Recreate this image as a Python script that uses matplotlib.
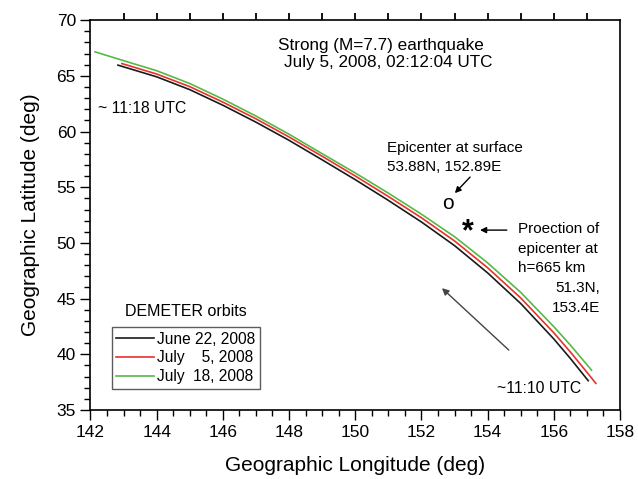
import matplotlib
matplotlib.use("Agg")
import matplotlib.pyplot as plt
import numpy as np
from matplotlib.ticker import MultipleLocator

plt.rcParams['font.family'] = ['Liberation Sans', 'DejaVu Sans']

# Orbit tracks (longitude, latitude)
lon_jun22 = [142.83, 144.0, 145.0, 146.0, 147.0, 148.0, 149.0, 150.0, 151.0, 152.0,
             153.0, 154.0, 155.0, 156.0, 156.5, 157.04]
lat_jun22 = [65.96, 64.91, 63.76, 62.36, 60.84, 59.21, 57.46, 55.68, 53.82, 51.88,
             49.76, 47.31, 44.56, 41.38, 39.63, 37.63]

lon_jul05 = [142.95, 144.0, 145.0, 146.0, 147.0, 148.0, 149.0, 150.0, 151.0, 152.0,
             153.0, 154.0, 155.0, 156.0, 156.5, 157.0, 157.27]
lat_jul05 = [66.10, 65.16, 64.03, 62.64, 61.14, 59.51, 57.78, 56.01, 54.17, 52.26,
             50.18, 47.77, 45.06, 41.93, 40.21, 38.39, 37.39]

lon_jul18 = [142.14, 143.0, 144.0, 145.0, 146.0, 147.0, 148.0, 149.0, 150.0, 151.0,
             152.0, 153.0, 154.0, 155.0, 156.0, 156.5, 157.14]
lat_jul18 = [67.15, 66.36, 65.46, 64.31, 62.91, 61.39, 59.76, 58.01, 56.28, 54.47,
             52.58, 50.56, 48.21, 45.56, 42.48, 40.83, 38.58]

series_labels = ["June 22, 2008", "July    5, 2008", "July  18, 2008"]
series_colors = ["#1a1a1a", "#e8322b", "#55b947"]

epicenter = (152.89, 53.88)
projection = (153.4, 51.3)

top_tick_lons = np.arange(143, 158, 1)

fig = plt.figure(figsize=(6.38, 4.79), dpi=100)
ax = fig.add_axes([0.1418, 0.144, 0.8300, 0.814])

for lon, lat, lab, col in zip([lon_jun22, lon_jul05, lon_jul18],
                              [lat_jun22, lat_jul05, lat_jul18],
                              series_labels, series_colors):
    ax.plot(lon, lat, color=col, lw=1.2, label=lab)

ax.set_xlim(142, 158)
ax.set_ylim(35, 70)
ax.xaxis.set_major_locator(MultipleLocator(2))
ax.xaxis.set_minor_locator(MultipleLocator(0.5))
ax.yaxis.set_major_locator(MultipleLocator(5))
ax.yaxis.set_minor_locator(MultipleLocator(1))
ax.tick_params(axis='both', which='major', direction='out', length=7, width=1,
               labelsize=12.5, colors='black')
ax.tick_params(axis='both', which='minor', direction='out', length=4, width=1)
ax.tick_params(axis='x', which='both', top=False, bottom=True)
ax.tick_params(axis='y', which='both', right=False, left=True)

for s in ax.spines.values():
    s.set_linewidth(1.2)

# top ticks every degree, drawn just above the top spine
ax.vlines(top_tick_lons, 1.0, 1.0 + 7.0 / 390.0, transform=ax.get_xaxis_transform(),
          clip_on=False, color='black', lw=1.3, zorder=5)

ax.set_xlabel("Geographic Longitude (deg)", fontsize=15, labelpad=12)
ax.set_ylabel("Geographic Latitude (deg)", fontsize=15, labelpad=12)

leg = ax.legend(loc='lower left', bbox_to_anchor=(0.04, 0.054), borderaxespad=0,
                fontsize=11.2, handlelength=2.4, handletextpad=0.2,
                labelspacing=0.25, fancybox=False, frameon=True,
                borderpad=0.3)
leg.get_frame().set_edgecolor('#333333')
leg.get_frame().set_linewidth(1.0)

ax.text(144.89, 43.88, "DEMETER orbits", fontsize=11.5, ha='center', va='center')

ax.text(150.78, 67.76, "Strong (M=7.7) earthquake", fontsize=12.3, ha='center', va='center')
ax.text(150.99, 66.23, "July 5, 2008, 02:12:04 UTC", fontsize=12.3, ha='center', va='center')

ax.text(142.23, 62.1, "~ 11:18 UTC", fontsize=11.3, ha='left', va='center')
ax.text(154.28, 36.97, "~11:10 UTC", fontsize=11.3, ha='left', va='center')

ax.text(150.96, 58.51, "Epicenter at surface", fontsize=11, ha='left', va='center')
ax.text(150.96, 56.80, "53.88N, 152.89E", fontsize=11, ha='left', va='center')
ax.text(epicenter[0] - 0.09, epicenter[1] - 0.3, "o", fontsize=15, ha='center', va='center')
ax.annotate("", xy=(153.01, 54.47), xytext=(153.47, 55.91),
            arrowprops=dict(arrowstyle='-|>', color='black', lw=1.0,
                            mutation_scale=9, shrinkA=0, shrinkB=0))

ax.text(projection[0], projection[1] - 0.35, "*", fontsize=22, fontweight='bold',
        ha='center', va='center')
ax.annotate("", xy=(153.77, 51.15), xytext=(154.58, 51.15),
            arrowprops=dict(arrowstyle='-|>', color='black', lw=1.0,
                            mutation_scale=9, shrinkA=0, shrinkB=0))
ax.text(154.92, 51.24, "Proection of", fontsize=11, ha='left', va='center')
ax.text(154.92, 49.44, "epicenter at", fontsize=11, ha='left', va='center')
ax.text(154.92, 47.74, "h=665 km", fontsize=11, ha='left', va='center')
ax.text(157.39, 45.94, "51.3N,", fontsize=11, ha='right', va='center')
ax.text(157.39, 44.15, "153.4E", fontsize=11, ha='right', va='center')

ax.annotate("", xy=(152.62, 45.94), xytext=(154.64, 40.38),
            arrowprops=dict(arrowstyle='-|>', color='#444444', lw=1.0,
                            mutation_scale=10, shrinkA=0, shrinkB=0))

fig.savefig("out.png", dpi=100)
